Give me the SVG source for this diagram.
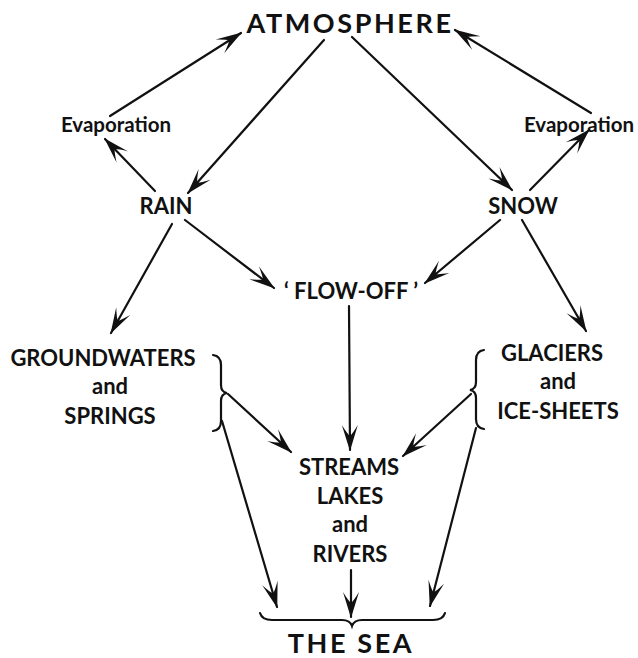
<svg xmlns="http://www.w3.org/2000/svg" width="638" height="658" viewBox="0 0 638 658">
<style>
text{font-family:"Lato","Open Sans","DejaVu Sans",sans-serif;font-weight:bold;fill:#111;text-anchor:middle}
.big{font-size:27px;letter-spacing:2.6px}
.mid{font-size:22px}
.sm{font-size:20.5px}
.c{stroke:#111;stroke-width:2.2;fill:none;stroke-linecap:round}
.a{marker-end:url(#ah)}
</style>
<defs>
<marker id="ah" viewBox="-28 -10 30 20" refX="0" refY="0" markerWidth="30" markerHeight="20" markerUnits="userSpaceOnUse" orient="auto">
<path d="M1,0 L-25,-8 Q-16,-2.5 -14,0 Q-16,2.5 -25,8 Z" fill="#111"/>
</marker>
</defs>
<rect width="638" height="658" fill="#fff"/>
<g id="atmosphere"><text class="big" x="350" y="33">ATMOSPHERE</text></g>
<g id="evap-left"><text class="sm" x="116" y="132">Evaporation</text></g>
<g id="evap-right"><text class="sm" x="579" y="132">Evaporation</text></g>
<g id="rain"><text class="mid" x="166" y="214">RAIN</text></g>
<g id="snow"><text class="mid" x="523" y="214">SNOW</text></g>
<g id="flowoff"><text class="mid" x="351" y="299">‘ FLOW-OFF ’</text></g>
<g id="groundwaters">
<text class="mid" x="103" y="366">GROUNDWATERS</text>
<text class="mid" x="110" y="394">and</text>
<text class="mid" x="110" y="424">SPRINGS</text>
<path class="c" d="M213,355 Q221,356 221,365 L221,385 Q221,392 227,393 Q221,394 221,401 L221,421 Q221,430 213,431"/>
</g>
<g id="glaciers">
<text class="mid" x="552" y="361">GLACIERS</text>
<text class="mid" x="558" y="389">and</text>
<text class="mid" x="558" y="419">ICE-SHEETS</text>
<path class="c" d="M484,350 Q476,351 476,360 L476,382 Q476,389 470,390 Q476,391 476,398 L476,419 Q476,428 484,429"/>
</g>
<g id="streams">
<text class="mid" x="349" y="475">STREAMS</text>
<text class="mid" x="350" y="504">LAKES</text>
<text class="mid" x="350" y="532">and</text>
<text class="mid" x="350" y="562">RIVERS</text>
</g>
<g id="sea">
<text class="big" x="351" y="653">THE SEA</text>
<path class="c" d="M260,613 Q262,620 272,620 L342,620 Q350,620 352,626 Q354,620 362,620 L433,620 Q443,620 445,613"/>
</g>
<g id="connectors">
<path class="c a" d="M110,116 L241,33"/>
<path class="c a" d="M155,191 L105,139"/>
<path class="c a" d="M324,40 L188,193"/>
<path class="c a" d="M352,37 L512,190"/>
<path class="c a" d="M591,113 L455,30"/>
<path class="c a" d="M530,190 L589,130"/>
<path class="c a" d="M185,220 L274,288"/>
<path class="c a" d="M172,224 L111,333"/>
<path class="c a" d="M500,220 L425,283"/>
<path class="c a" d="M522,220 L586,331"/>
<path class="c a" d="M349,306 L350,450"/>
<path class="c a" d="M228,394 L291,452"/>
<path class="c a" d="M471,394 L403,456"/>
<path class="c a" d="M222,421 L277,607"/>
<path class="c a" d="M351,570 L351,617"/>
<path class="c a" d="M476,428 L430,606"/>
</g>
</svg>
